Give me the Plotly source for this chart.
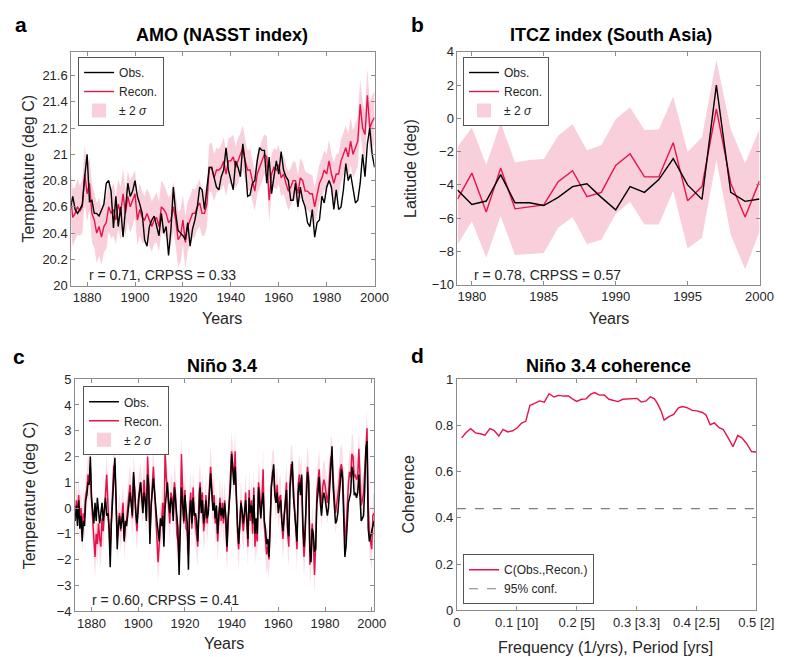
import plotly.graph_objects as go

# ---------------- Panel a: AMO (NASST index) ----------------
amo_years = list(range(1873, 2001))
amo_obs = [
    20.58, 20.68, 20.58, 20.55, 20.58, 20.62, 20.83,                       # 1873-1879
    21.00, 20.64, 20.65, 20.55, 20.55, 20.53, 20.58, 20.62, 20.78, 20.80,  # 1880s
    20.72, 20.44, 20.68, 20.45, 20.60, 20.37, 20.58, 20.78, 20.68, 20.72,  # 1890s
    20.80, 20.68, 20.62, 20.55, 20.35, 20.30, 20.45, 20.50, 20.53, 20.45,  # 1900s
    20.38, 20.55, 20.40, 20.45, 20.23, 20.43, 20.75, 20.55, 20.42, 20.40,  # 1910s
    20.38, 20.35, 20.48, 20.30, 20.43, 20.50, 20.60, 20.75, 20.73, 20.58,  # 1920s
    20.73, 20.90, 20.90, 20.82, 20.75, 20.73, 20.83, 20.88, 21.05, 20.88,  # 1930s
    20.80, 20.73, 20.95, 20.90, 20.83, 21.08, 20.93, 20.68, 20.69, 20.78,  # 1940s
    20.80, 20.95, 21.05, 21.03, 21.03, 20.78, 20.98, 20.70, 20.83, 20.95,  # 1950s
    20.85, 21.02, 20.88, 20.83, 20.80, 20.65, 20.65, 20.78, 20.60, 20.75,  # 1960s
    20.65, 20.60, 20.48, 20.45, 20.58, 20.37, 20.48, 20.50, 20.68, 20.63,  # 1970s
    20.75, 20.80, 20.75, 20.58, 20.73, 20.58, 20.60, 20.73, 20.93, 20.80,  # 1980s
    20.85, 20.73, 20.63, 20.65, 20.78, 21.00, 20.83, 21.08, 21.20, 21.00,  # 1990s
    20.90,                                                                 # 2000
]
amo_recon = [
    20.68, 20.52, 20.55, 20.60, 20.57, 20.60, 20.85,
    20.70, 20.78, 20.55, 20.50, 20.40, 20.45, 20.37, 20.45, 20.48, 20.60,
    20.55, 20.58, 20.50, 20.62, 20.55, 20.70, 20.55, 20.68, 20.60, 20.65,
    20.70, 20.50, 20.58, 20.52, 20.50, 20.55, 20.50, 20.45, 20.50, 20.52,
    20.45, 20.60, 20.58, 20.55, 20.48, 20.50, 20.60, 20.50, 20.35, 20.38,
    20.50, 20.33, 20.45, 20.50, 20.55, 20.55, 20.60, 20.63, 20.55, 20.55,
    20.62, 20.90, 20.90, 20.82, 20.88, 20.88, 20.90, 20.95, 20.85, 20.95,
    20.95, 20.98, 20.90, 20.95, 21.00, 21.05, 20.95, 20.88, 20.88, 20.80,
    20.72, 20.85, 20.90, 20.95, 21.00, 20.98, 20.65, 20.85, 20.90, 20.88,
    20.92, 20.82, 20.85, 20.78, 20.72, 20.75, 20.80, 20.80, 20.70, 20.82,
    20.80, 20.72, 20.72, 20.70, 20.70, 20.60, 20.70, 20.78, 20.82, 20.88,
    20.85, 20.95, 20.85, 20.78, 20.85, 20.85, 20.95, 21.00, 21.05, 20.98,
    21.10, 21.00, 21.05, 21.10, 21.38, 21.20, 21.15, 21.45, 21.20, 21.25,
    21.28,
]
amo_2sigma = (
    [0.21, 0.22, 0.20, 0.21, 0.19, 0.20, 0.22]
    + [0.21, 0.20, 0.22, 0.21, 0.23, 0.22, 0.21, 0.20, 0.20, 0.19]
    + [0.19, 0.20, 0.18, 0.19, 0.20, 0.19, 0.18, 0.19, 0.20, 0.19]
    + [0.18, 0.19, 0.20, 0.19, 0.18, 0.19, 0.20, 0.19, 0.18, 0.19]
    + [0.19, 0.20, 0.19, 0.18, 0.19, 0.20, 0.19, 0.20, 0.21, 0.20]
    + [0.19, 0.20, 0.19, 0.18, 0.19, 0.18, 0.17, 0.18, 0.17, 0.17]
    + [0.17, 0.18, 0.19, 0.18, 0.17, 0.16, 0.17, 0.18, 0.17, 0.17]
    + [0.18, 0.17, 0.16, 0.17, 0.16, 0.17, 0.16, 0.15, 0.16, 0.16]
    + [0.15, 0.16, 0.15, 0.16, 0.15, 0.16, 0.17, 0.15, 0.15, 0.15]
    + [0.15, 0.14, 0.15, 0.14, 0.15, 0.14, 0.15, 0.14, 0.14, 0.15]
    + [0.14, 0.15, 0.14, 0.15, 0.14, 0.15, 0.14, 0.14, 0.15, 0.15]
    + [0.15, 0.16, 0.15, 0.16, 0.15, 0.16, 0.16, 0.17, 0.17, 0.17]
    + [0.18, 0.18, 0.18, 0.19, 0.19, 0.19, 0.19, 0.20, 0.20, 0.20]
    + [0.20]
)

# ---------------- Panel b: ITCZ index (South Asia) ----------------
itcz_years = list(range(1979, 2001))
itcz_obs = [-4.30, -5.18, -4.97, -3.38, -5.07, -5.07, -5.24, -4.75, -4.10, -3.93,
            -4.75, -5.50, -4.10, -4.45, -3.68, -2.42, -4.00, -4.87, 2.00, -4.45,
            -4.99, -4.85]
itcz_recon = [-4.85, -3.29, -5.63, -2.99, -5.44, -5.30, -5.20, -3.81, -3.15, -4.71,
              -4.45, -2.83, -2.13, -3.52, -3.52, -1.46, -4.95, -4.10, 0.57, -3.90,
              -5.93, -3.77]
itcz_upper = [-1.72, -0.55, -2.80, -0.25, -2.66, -2.50, -2.45, -1.04, -0.35, -1.92,
              -1.62, -0.06, 0.67, -0.70, -0.67, 1.31, -2.02, -1.14, 3.52, -0.65,
              -2.70, -0.65]
itcz_lower = [-7.60, -6.19, -8.38, -5.87, -8.22, -8.15, -8.09, -6.58, -5.93, -7.56,
              -7.30, -5.75, -5.01, -6.38, -6.38, -4.37, -7.83, -7.17, -2.50, -7.00,
              -9.07, -6.80]

# ---------------- Panel c: Nino 3.4 (two values per year, 1873.0 .. 2001.0) ----------------
nino_start = 1873.0
nino_step = 0.5
nino_obs = [
    -0.5, 0.1, -0.7, 0.3, -0.8, -0.3, -1.3, -0.5, -0.7, 0.3, 0.5, 1.0, 0.9, 2.0,        # 1873-1879
    0.4, -0.3, -0.6, 0.2, -0.5, 0.4, -0.3, -0.6, -0.2, 0.2, -0.5, -0.1, 0.4, -0.3,      # 1880-1886
    -0.2, -0.8, -2.3, -0.6, 0.3, 1.1,                                                   # 1887-1889
    1.95, 0.4, -1.6, -0.7, -0.3, -0.8, -0.5, -0.2, -1.3, -0.5, -0.7, -0.2, 0.3, 0.6,    # 1890-1896
    0.2, -0.3, 1.4, 0.5, -0.2, -0.6,                                                    # 1897-1899
    0.2, 0.6, 1.0, 0.3, -0.2, 0.6, 0.3, -0.5, 1.3, 0.8, -1.4, 0.1, 0.5, 1.15,           # 1900-1906
    0.6, -0.2, -0.5, -0.9, -1.3, -0.4,                                                  # 1907-1909
    -0.7, -0.3, -1.5, 0.0, 0.6, 1.0, 0.3, -0.2, 0.4, 0.2, -0.5, 0.8, 0.3, -0.3,         # 1910-1916
    -0.8, -2.6, -0.9, 0.8, 0.2, -0.5,                                                   # 1917-1919
    0.5, -0.3, -0.6, -2.4, -0.2, 0.3, -0.6, 0.4, -0.3, -0.2, -0.5, -1.3, 0.2, 0.8,      # 1920-1926
    -0.2, 0.3, -0.6, -0.3, 0.3, -0.4,                                                   # 1927-1929
    -0.2, 0.5, 1.35, 0.6, -0.1, 0.2, -0.4, 0.1, -1.0, -0.3, 0.2, -0.3, 0.0, -0.4,       # 1930-1936
    0.2, -0.3, -1.5, -0.4, 0.1, 0.8,                                                    # 1937-1939
    2.1, 1.3, 0.9, 1.6, 0.3, -0.6, -1.4, -0.3, 0.2, -0.1, -0.6, -0.2, 0.3, -0.4,        # 1940-1946
    -1.2, 0.4, -0.2, 0.1, -0.6, 0.5,                                                    # 1947-1949
    -1.0, -0.4, -1.0, 0.8, 0.3, -0.4, 0.2, 0.6, -0.5, -0.8, -1.4, -1.2, -1.9, -0.5,     # 1950-1956
    0.8, 1.2, 1.7, 0.5, 0.2, 0.6,                                                       # 1957-1959
    -0.2, 0.1, 0.3, -0.5, -0.9, -0.3, 0.2, 0.7, -0.8, -1.1, 0.8, 1.3, 1.8, 0.4,         # 1960-1966
    -0.3, -0.6, -1.3, 0.6, 1.0, 0.5,                                                    # 1967-1969
    1.3, -0.6, -1.5, -0.8, 0.7, 1.4, 1.0, -1.6, -2.1, -0.8, -1.0, -1.7, -1.6, 0.2,      # 1970-1976
    0.6, 1.2, 0.2, -0.3, 0.3, 0.6,                                                      # 1977-1979
    0.4, 0.0, -0.3, 0.0, 0.9, 1.8, 2.4, 0.8, -0.2, -0.6, -0.5, -0.2, 0.4, 1.0,          # 1980-1986
    1.5, 1.2, -0.5, -1.9, -1.5, -0.3,                                                   # 1987-1989
    0.2, 0.4, 0.6, 1.6, 1.4, 0.5, 0.6, 0.4, 0.6, 1.3, 0.6, -0.5, -0.4, -0.3,            # 1990-1996
    0.7, 2.3, 2.6, -0.8, -1.3, -1.1,                                                    # 1997-1999
    -0.8, -0.6, -0.5,                                                                   # 2000-2001.0
]
nino_recon = [
    -0.3, 0.3, -0.4, 0.5, -0.5, 0.0, -1.0, -0.2, -0.4, 0.5, 0.7, 1.3, 1.0, 1.6,
    0.3, -0.8, -1.2, -1.9, -1.0, -1.4, -0.6, -1.2, -1.5, -0.4, -0.9, -0.2, 0.6, 1.3,
    0.2, -0.7, -1.6, -0.4, 0.5, 1.6,
    1.7, 0.2, -1.2, -0.6, -0.2, -0.9, -0.4, 0.2, -1.2, -0.6, -0.5, 0.1, 0.5, 0.9,
    0.3, -0.4, 1.3, 0.7, -0.4, -0.9,
    0.3, 0.8, 1.0, 0.4, 0.2, 1.1, 0.5, -0.4, 2.0, 1.0, -1.0, 0.3, 0.8, 1.6,
    0.7, -0.5, -1.0, -2.1, -1.4, -0.6,
    -0.6, 0.2, -1.2, 2.2, 1.2, 0.4, 0.1, -0.6, 0.6, 0.4, -0.2, 1.0, 0.5, -1.0,
    -1.3, -1.9, -0.6, 2.1, 0.8, -0.6,
    0.7, -0.8, -0.9, -1.8, 0.1, 0.6, -0.8, 0.8, -0.2, -0.6, -0.9, -1.5, 0.5, 1.0,
    0.0, 0.6, -0.9, -0.5, 0.5, -0.6,
    0.0, 0.7, 1.6, 0.8, 0.1, 0.5, -0.6, -0.1, -1.3, -0.5, 0.4, -0.5, 0.2, -0.6,
    0.3, -0.6, -1.7, -0.6, 0.3, 1.0,
    2.2, 1.6, 1.2, 2.2, 0.5, -0.9, -1.6, -0.6, 0.3, -0.4, -0.9, -0.4, 0.6, -0.6,
    -1.5, 0.7, -0.5, 0.3, -1.0, 0.8,
    -1.5, -0.8, -1.3, 1.0, 0.6, -0.2, 0.4, 1.5, -0.7, -1.2, -1.8, -1.5, -2.0, -0.9,
    0.9, 1.4, 1.5, 0.7, 0.3, 0.9,
    0.0, 0.4, 0.5, -0.6, -1.2, -0.4, 0.4, 1.0, -1.0, -1.5, 1.0, 1.7, 1.5, 0.6,
    -0.1, -0.9, -1.6, 0.9, 1.3, 0.8,
    1.2, -0.9, -1.9, -1.2, 0.9, 1.6, 1.2, -2.2, -1.8, -0.6, -1.3, -2.6, -1.4, 0.6,
    1.0, 1.5, 0.6, 0.0, 0.8, 1.1,
    0.9, 0.4, 0.2, 0.6, 1.3, 2.0, 1.9, 1.0, 0.4, -0.2, 0.1, 0.5, 0.9, 1.5,
    1.7, 1.4, 0.2, -1.3, -0.9, 0.4,
    0.9, 1.4, 1.2, 2.1, 2.0, 1.2, 1.3, 1.1, 1.2, 2.3, 1.3, 0.1, 0.3, 0.6,
    1.4, 2.6, 3.1, 0.2, -1.0, -1.3,
    -1.6, -0.3, -0.2,
]
nino_2sigma = 0.8
nino_time = [nino_start + nino_step * i for i in range(len(nino_obs))]

# ---------------- Panel d: Nino 3.4 coherence ----------------
coh_freq = [0.008, 0.015, 0.023, 0.031, 0.039, 0.047, 0.055, 0.062, 0.070, 0.077,
            0.085, 0.093, 0.101, 0.108, 0.115, 0.122, 0.129, 0.138, 0.146, 0.154,
            0.162, 0.170, 0.178, 0.186, 0.193, 0.200, 0.208, 0.216, 0.223, 0.230,
            0.238, 0.246, 0.254, 0.261, 0.269, 0.277, 0.285, 0.293, 0.301, 0.308,
            0.316, 0.323, 0.330, 0.335, 0.341, 0.346, 0.354, 0.362, 0.370, 0.377,
            0.385, 0.393, 0.401, 0.410, 0.416, 0.423, 0.430, 0.438, 0.445, 0.453,
            0.461, 0.469, 0.476, 0.484, 0.492, 0.500]
coh_val = [0.746, 0.768, 0.786, 0.768, 0.764, 0.758, 0.786, 0.779, 0.754, 0.783,
           0.772, 0.777, 0.790, 0.810, 0.818, 0.887, 0.894, 0.906, 0.901, 0.937,
           0.923, 0.930, 0.927, 0.928, 0.915, 0.904, 0.913, 0.915, 0.934, 0.942,
           0.931, 0.932, 0.913, 0.907, 0.903, 0.913, 0.915, 0.918, 0.917, 0.901,
           0.906, 0.924, 0.915, 0.894, 0.863, 0.823, 0.838, 0.848, 0.876, 0.882,
           0.876, 0.865, 0.863, 0.856, 0.845, 0.803, 0.811, 0.790, 0.782, 0.746,
           0.708, 0.756, 0.746, 0.721, 0.687, 0.685]
coh_conf = 0.44
freq_ticks = [0, 0.1, 0.2, 0.3, 0.4, 0.5]
freq_ticktext = ["0", "0.1 [10]", "0.2 [5]", "0.3 [3.3]", "0.4 [2.5]", "0.5 [2]"]

# ---------------- styling ----------------
RED = "#e8124a"
BLACK = "#000000"
PINK = "#f8cfda"
PINK_LIGHT = "#fbdde5"
AXC = "#8c8c8c"
TXT = "#262626"
FONT = "Liberation Sans, Arial, sans-serif"

fig = go.Figure()


def band(x, lo, hi, xa, ya, leg, color):
    fig.add_trace(go.Scatter(x=x, y=lo, mode="lines", line=dict(width=0, color=color),
                             showlegend=False, hoverinfo="skip", xaxis=xa, yaxis=ya))
    fig.add_trace(go.Scatter(x=x, y=hi, mode="lines", line=dict(width=0, color=color),
                             fill="tonexty", fillcolor=color, showlegend=False,
                             xaxis=xa, yaxis=ya))
    # legend swatch for the band (a filled rectangle, as in the original legend)
    fig.add_trace(go.Scatter(x=[None], y=[None], mode="markers",
                             marker=dict(symbol="square", size=14, color=PINK),
                             name="± 2 <i>σ</i>", legend=leg, legendrank=3,
                             xaxis=xa, yaxis=ya))


def lines(x, obs, rec, xa, ya, leg, w=1.4):
    fig.add_trace(go.Scatter(x=x, y=rec, mode="lines", line=dict(color=RED, width=w),
                             name="Recon.", legend=leg, legendrank=2, xaxis=xa, yaxis=ya))
    fig.add_trace(go.Scatter(x=x, y=obs, mode="lines", line=dict(color=BLACK, width=w),
                             name="Obs.", legend=leg, legendrank=1, xaxis=xa, yaxis=ya))


# panel a
amo_lo = [r - s for r, s in zip(amo_recon, amo_2sigma)]
amo_hi = [r + s for r, s in zip(amo_recon, amo_2sigma)]
band(amo_years, amo_lo, amo_hi, "x", "y", "legend", PINK)
lines(amo_years, amo_obs, amo_recon, "x", "y", "legend")

# panel b
band(itcz_years, itcz_lower, itcz_upper, "x2", "y2", "legend2", PINK)
lines(itcz_years, itcz_obs, itcz_recon, "x2", "y2", "legend2")

# panel c
nino_lo = [r - nino_2sigma for r in nino_recon]
nino_hi = [r + nino_2sigma for r in nino_recon]
band(nino_time, nino_lo, nino_hi, "x3", "y3", "legend3", PINK_LIGHT)
lines(nino_time, nino_obs, nino_recon, "x3", "y3", "legend3", w=1.5)

# panel d
fig.add_trace(go.Scatter(x=coh_freq, y=coh_val, mode="lines", line=dict(color=RED, width=1.4),
                         name="C(Obs.,Recon.)", legend="legend4", legendrank=1,
                         xaxis="x4", yaxis="y4"))
fig.add_trace(go.Scatter(x=[0, 0.5], y=[coh_conf, coh_conf], mode="lines",
                         line=dict(color="#7f7f7f", width=1.2, dash="dash"),
                         name="95% conf.", legend="legend4", legendrank=2,
                         xaxis="x4", yaxis="y4"))

W, H = 787, 657


def px(x):
    return x / W


def py(y):
    return (H - y) / H


ax_common = dict(showline=True, linecolor=AXC, linewidth=1, mirror="allticks",
                 ticks="inside", ticklen=4, tickcolor=AXC, showgrid=False,
                 zeroline=False, tickfont=dict(size=13, color=TXT, family=FONT))

amo_yt = [20.0, 20.2, 20.4, 20.6, 20.8, 21.0, 21.2, 21.4, 21.6]

fig.update_layout(
    width=W, height=H, margin=dict(l=0, r=0, t=0, b=0),
    paper_bgcolor="white", plot_bgcolor="white",
    font=dict(family=FONT, color=TXT),
    xaxis=dict(domain=[px(61), px(373)], anchor="y", range=[1873.4, 2000],
               tickvals=[1880, 1900, 1920, 1940, 1960, 1980, 2000], **ax_common),
    yaxis=dict(domain=[py(277), py(37.7)], anchor="x", range=[20, 21.78],
               tickvals=amo_yt, ticktext=[f"{v:g}" for v in amo_yt],
               title=dict(text="Temperature (deg C)", standoff=3,
                          font=dict(size=16, color=TXT, family=FONT)),
               automargin=False, **ax_common),
    xaxis2=dict(domain=[px(458.3), px(769)], anchor="y2", range=[1979, 2000],
                tickvals=[1980, 1985, 1990, 1995, 2000], **ax_common),
    yaxis2=dict(domain=[py(276), py(37.7)], anchor="x2", range=[-10, 4],
                tickvals=list(range(-10, 5, 2)), **ax_common),
    xaxis3=dict(domain=[px(65), px(372.7)], anchor="y3", range=[1873, 2001.1],
                tickvals=[1880, 1900, 1920, 1940, 1960, 1980, 2000], **ax_common),
    yaxis3=dict(domain=[py(610), py(372.7)], anchor="x3", range=[-4, 5],
                tickvals=list(range(-4, 6)), **ax_common),
    xaxis4=dict(domain=[px(457.7), px(765.7)], anchor="y4", range=[0, 0.5],
                tickvals=freq_ticks, ticktext=freq_ticktext, **ax_common),
    yaxis4=dict(domain=[py(609.3), py(372.7)], anchor="x4", range=[0, 1],
                tickvals=[0, 0.2, 0.4, 0.6, 0.8, 1],
                ticktext=["0", "0.2", "0.4", "0.6", "0.8", "1"], **ax_common),
)

leg_common = dict(bgcolor="white", bordercolor="#555555", borderwidth=1,
                  font=dict(size=12, color=TXT, family=FONT), traceorder="normal",
                  itemwidth=30, tracegroupgap=0)
fig.update_layout(
    legend=dict(x=px(68), y=py(43), xanchor="left", yanchor="top", **leg_common),
    legend2=dict(x=px(464), y=py(43), xanchor="left", yanchor="top", **leg_common),
    legend3=dict(x=px(73), y=py(380), xanchor="left", yanchor="top", **leg_common),
    legend4=dict(x=px(464), y=py(603), xanchor="left", yanchor="bottom", **leg_common),
)

ann = []


def text(x, y, s, size, bold=False, angle=0, xanchor="center"):
    ann.append(dict(x=x, y=y, xref="paper", yref="paper", text=f"<b>{s}</b>" if bold else s,
                    showarrow=False, textangle=angle, xanchor=xanchor, yanchor="middle",
                    font=dict(size=size, color="#000000" if bold else TXT, family=FONT)))


# panel letters
text(px(9), py(10), "a", 21, bold=True)
text(px(417), py(10), "b", 21, bold=True)
text(px(7), py(349), "c", 21, bold=True)
text(px(417), py(348), "d", 21, bold=True)
# titles
text(px(216), py(20), "AMO (NASST index)", 18, bold=True)
text(px(616), py(20), "ITCZ index (South Asia)", 18, bold=True)
text(px(216), py(359), "Niño 3.4", 18, bold=True)
text(px(614), py(359), "Niño 3.4 coherence", 18, bold=True)
# axis titles
text(px(216), py(311), "Years", 16)
text(px(614), py(311), "Years", 16)
text(px(218), py(643), "Years", 16)
text(px(611), py(647), "Frequency (1/yrs), Period [yrs]", 16)
text(px(410), py(157), "Latitude (deg)", 16, angle=-90)
text(px(18), py(491), "Temperature (deg C)", 16, angle=-90)
text(px(408), py(491), "Coherence", 16, angle=-90)
# statistics
text(px(77), py(265.7), "r = 0.71, CRPSS = 0.33", 14, xanchor="left")
text(px(473), py(265.7), "r = 0.78, CRPSS = 0.57", 14, xanchor="left")
text(px(80), py(598.3), "r = 0.60, CRPSS = 0.41", 14, xanchor="left")

fig.update_layout(annotations=ann)
fig.write_html("out.html")
